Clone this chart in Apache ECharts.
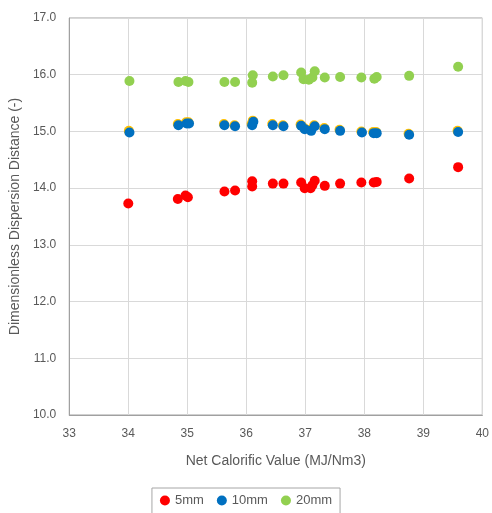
<!DOCTYPE html>
<html><head><meta charset="utf-8">
<script src="https://cdn.jsdelivr.net/npm/echarts@6/dist/echarts.min.js"></script>
<style>html,body{margin:0;padding:0;background:#fff}#c{width:492px;height:513px}</style>
</head><body><div id="c"></div>
<script>
const xTicks = ['33','34','35','36','37','38','39','40'];
const yTicks = ['10.0','11.0','12.0','13.0','14.0','15.0','16.0','17.0'];
const seriesNames = ['5mm','10mm','20mm'];
const x5 = [34.00,34.84,34.97,35.01,35.63,35.81,36.10,36.10,36.45,36.63,36.93,36.99,37.09,37.12,37.16,37.33,37.59,37.95,38.16,38.21,38.76,39.59];
const y5 = [13.73,13.81,13.87,13.84,13.94,13.96,14.12,14.03,14.08,14.08,14.10,14.00,14.00,14.05,14.13,14.04,14.08,14.10,14.10,14.11,14.17,14.37];
const x10 = [34.02,34.85,34.99,35.03,35.63,35.81,36.10,36.12,36.45,36.63,36.93,36.99,37.10,37.16,37.33,37.59,37.96,38.16,38.21,38.76,39.59];
const y10 = [14.98,15.11,15.14,15.14,15.11,15.09,15.11,15.17,15.11,15.09,15.10,15.04,15.01,15.09,15.04,15.01,14.98,14.97,14.97,14.94,14.99];
const x15 = [34.01,34.84,34.98,35.02,35.62,35.80,36.09,36.11,36.44,36.62,36.92,36.98,37.09,37.15,37.32,37.58,37.95,38.15,38.20,38.75,39.58];
const y15 = [15.01,15.13,15.16,15.16,15.13,15.11,15.13,15.19,15.13,15.11,15.12,15.06,15.03,15.11,15.06,15.03,15.00,14.99,14.99,14.96,15.01];
const x20 = [34.02,34.85,34.97,35.02,35.63,35.81,36.11,36.10,36.45,36.63,36.93,36.97,37.06,37.12,37.16,37.33,37.59,37.95,38.17,38.21,38.76,39.59];
const y20 = [15.89,15.87,15.89,15.87,15.87,15.87,15.99,15.86,15.97,15.99,16.04,15.92,15.91,15.95,16.06,15.95,15.96,15.95,15.93,15.96,15.98,16.14];

const pair = (xs, ys) => xs.map((v, i) => [v, ys[i]]);
const font = '"Liberation Sans", Arial, sans-serif';
const chart = echarts.init(document.getElementById('c'), null, {renderer: 'canvas'});
chart.setOption({
  animation: false,
  textStyle: {fontFamily: font},
  grid: {left: 69, right: 8, top: 18, bottom: 98, show: true, borderColor: '#a0a0a0', borderWidth: 1},
  legend: {
    data: seriesNames, bottom: -2, left: 'center',
    icon: 'circle', itemWidth: 10, itemHeight: 10, itemGap: 13,
    borderColor: '#a6a6a6', borderWidth: 1, padding: [6, 8, 8, 8],
    textStyle: {color: '#595959', fontSize: 13, fontFamily: font}
  },
  xAxis: {
    type: 'value', min: 33, max: 40, interval: 1,
    name: 'Net Calorific Value (MJ/Nm3)', nameLocation: 'middle', nameGap: 39,
    nameTextStyle: {color: '#595959', fontSize: 14, fontFamily: font},
    axisLine: {show: true, lineStyle: {color: '#a0a0a0'}},
    axisTick: {show: false},
    axisLabel: {color: '#595959', fontSize: 12, margin: 13, formatter: v => xTicks[Math.round(v - 33)]},
    splitLine: {show: true, lineStyle: {color: '#d9d9d9'}}
  },
  yAxis: {
    type: 'value', min: 10, max: 17, interval: 1,
    name: 'Dimensionless Dispersion Distance (-)', nameLocation: 'middle', nameGap: 39,
    nameTextStyle: {color: '#595959', fontSize: 14, fontFamily: font},
    axisLine: {show: true, lineStyle: {color: '#a0a0a0'}},
    axisTick: {show: false},
    axisLabel: {color: '#595959', fontSize: 12, margin: 13, formatter: v => yTicks[Math.round(v - 10)]},
    splitLine: {show: true, lineStyle: {color: '#d9d9d9'}}
  },
  series: [
    {name: '5mm', type: 'scatter', data: pair(x5, y5), symbolSize: 10, itemStyle: {color: '#ff0000', opacity: 1}},
    {name: '15mm', type: 'scatter', data: pair(x15, y15), symbolSize: 10, itemStyle: {color: '#ffc000', opacity: 1}},
    {name: '10mm', type: 'scatter', data: pair(x10, y10), symbolSize: 10, itemStyle: {color: '#0070c0', opacity: 1}},
    {name: '20mm', type: 'scatter', data: pair(x20, y20), symbolSize: 10, itemStyle: {color: '#92d050', opacity: 1}}
  ]
});
</script></body></html>
